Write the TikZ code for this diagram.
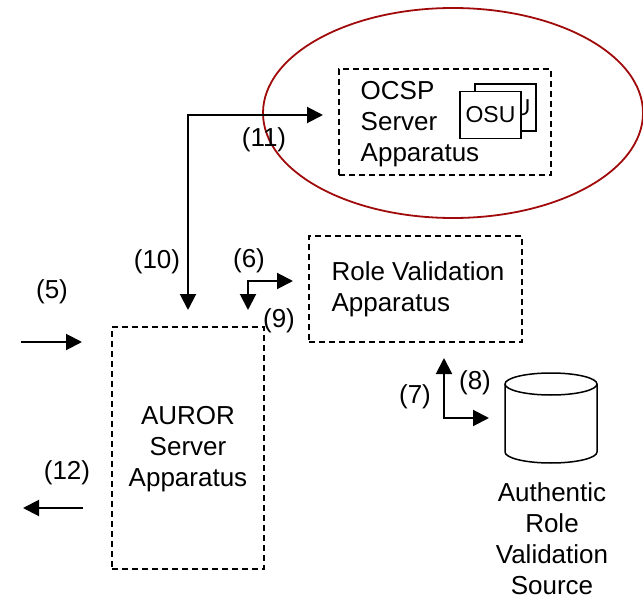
\documentclass[tikz,border=0pt]{standalone}
\usepackage{fontspec}
\setmainfont{Liberation Sans}
\usetikzlibrary{arrows.meta,calc}
\definecolor{ringred}{RGB}{160,10,10}
\begin{document}
\begin{tikzpicture}[x=1pt,y=-1pt,
  every node/.style={font=\fontsize{26}{31}\selectfont, inner sep=0pt, outer sep=0pt},
  dashbox/.style={draw, dash pattern=on 6pt off 4pt, line width=1.6pt},
  flow/.style={line width=2pt, -{Triangle[length=16pt,width=16pt]}},
  flowboth/.style={line width=2pt, {Triangle[length=16pt,width=16pt]}-{Triangle[length=16pt,width=16pt]}},
  osubox/.style={draw, line width=1.5pt, fill=white, minimum width=61pt, minimum height=47pt, font=\fontsize{23}{27}\selectfont},
  dbline/.style={line width=1.5pt}
]
\useasboundingbox (0,0) rectangle (643,599);

% OCSP ring
\draw[ringred, line width=1.8pt] (453,113) ellipse [x radius=190pt, y radius=105pt];

% OCSP server apparatus with its OSU stack
\node[dashbox, minimum width=212pt, minimum height=106pt] (ocsp) at (445,122) {};
\node[align=left] (ocsptxt) at (420,124) {OCSP\\Server\\Apparatus};
\node[osubox] (osuback) at (505.5,107.5) {OSU};
\node[osubox] (osufront) at (490.5,115) {OSU};

% Role validation apparatus
\node[dashbox, minimum width=213pt, minimum height=106pt] (rva) at (415.5,289) {};
\node[align=left] (rvatxt) at (418,289) {Role Validation\\Apparatus};

% AUROR server apparatus
\node[dashbox, minimum width=152pt, minimum height=242pt] (auror) at (188,448) {};
\node[align=center] (aurortxt) at (188,449) {AUROR\\Server\\Apparatus};

% Authentic role validation source (cylinder)
\draw[dbline, fill=white] (505,384) -- (505,452)
  arc[start angle=180, end angle=360, x radius=46pt, y radius=11pt] -- (597,384);
\draw[dbline] (551,384) ellipse [x radius=46pt, y radius=11pt];
\node[align=center] (dbtxt) at (552,539) {Authentic\\Role\\Validation\\Source};

% Connector end points
\coordinate (in5a) at (21,342);
\coordinate (in5b) at (82,342);
\coordinate (out12a) at (83,508);
\coordinate (out12b) at (23,508);
\coordinate (a10) at (188,310);
\coordinate (a11) at (323,115);
\coordinate (a9) at (248,310);
\coordinate (a6) at (293,281);
\coordinate (a7) at (444,358);
\coordinate (a8) at (489,418);

% Connectors
\draw[flow] (in5a) -- (in5b);
\draw[flow] (out12a) -- (out12b);
\draw[flowboth] (a10) |- (a11);
\draw[flowboth] (a9) |- (a6);
\draw[flowboth] (a7) |- (a8);

% Step labels
\node (l5) at (52,292) {(5)};
\node (l6) at (249,261) {(6)};
\node (l7) at (415,397) {(7)};
\node (l8) at (475,383) {(8)};
\node (l9) at (279,321) {(9)};
\node (l10) at (157,262) {(10)};
\node (l11) at (264,140) {(11)};
\node (l12) at (67,473) {(12)};
\end{tikzpicture}
\end{document}
